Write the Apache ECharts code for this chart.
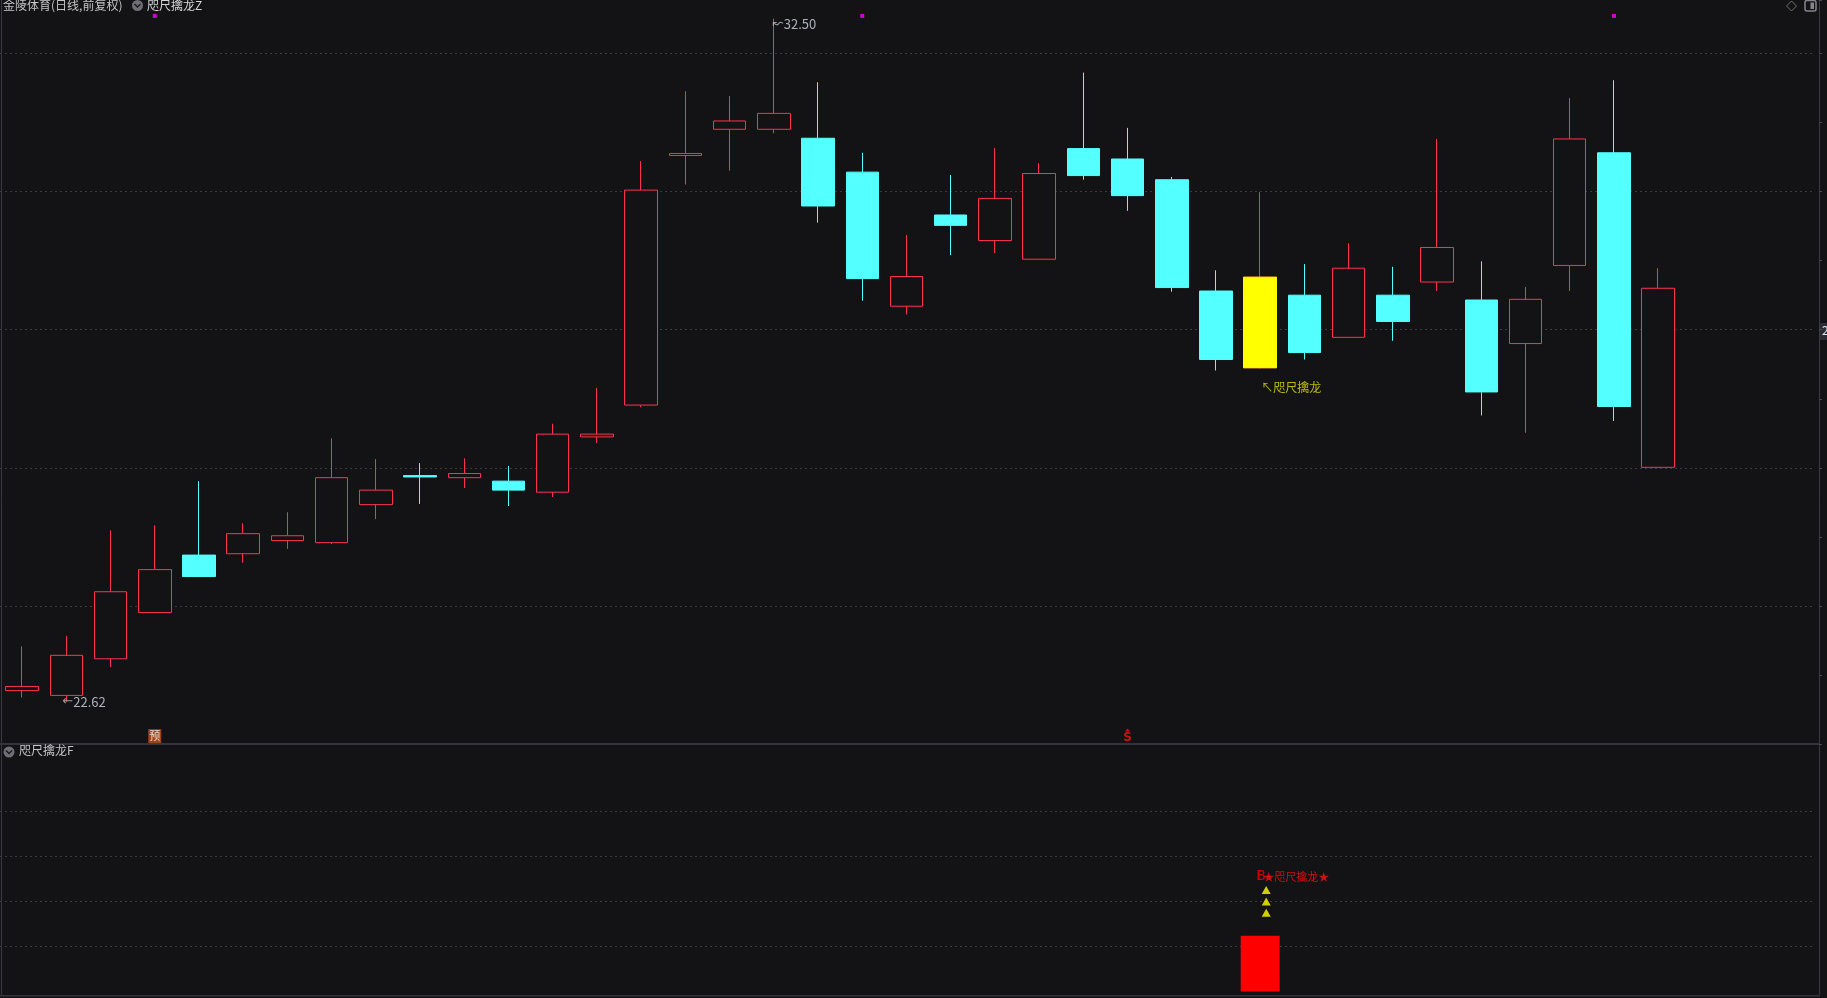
<!DOCTYPE html>
<html lang="zh">
<head>
<meta charset="UTF-8">
<title>金陵体育(日线,前复权)</title>
<script src="https://cdn.jsdelivr.net/npm/echarts@6/dist/echarts.min.js"></script>
<style>
    * { margin: 0; padding: 0 }
    html, body { width: 100%; height: 100%; background: #131215; overflow: hidden; }
    #main { width: 1827px; height: 998px; }
</style>
</head>
<body>
<div id="main"></div>
<script>
    // K线序号(图上没有日期)
    var days = ['1', '2', '3', '4', '5', '6', '7', '8', '9', '10', '11', '12', '13', '14', '15', '16', '17', '18', '19', '20',
        '21', '22', '23', '24', '25', '26', '27', '28', '29', '30', '31', '32', '33', '34', '35', '36', '37', '38', '39', '40', '41'];
    var opens = [22.78, 22.71, 23.24, 23.91, 24.74, 24.76, 24.95, 24.92, 25.47, 25.89, 25.86, 25.81, 25.65, 26.45, 26.91, 30.52, 30.90, 30.90, 30.77, 30.28,
        28.34, 29.66, 29.29, 29.02, 30.62, 30.47, 30.17, 28.56, 27.45, 28.50, 27.89, 28.50, 28.69, 28.43, 27.80, 28.93, 30.56, 26.01];
    var closes = [22.84, 23.29, 24.21, 24.53, 24.43, 25.05, 25.02, 25.86, 25.68, 25.87, 25.92, 25.68, 26.49, 26.49, 30.02, 30.55, 31.02, 31.13, 29.79, 28.74,
        28.77, 29.51, 29.90, 30.26, 30.23, 29.94, 28.61, 27.57, 28.76, 27.67, 28.89, 28.12, 29.19, 27.10, 28.44, 30.76, 26.89, 28.60];
    var lows = [22.68, 22.62, 23.12, 23.91, 24.43, 24.63, 24.83, 24.90, 25.26, 25.48, 25.71, 25.45, 25.58, 26.36, 26.88, 30.10, 30.30, 30.84, 29.55, 28.42,
        28.22, 29.08, 29.11, 29.02, 30.17, 29.72, 28.55, 27.41, 27.44, 27.57, 27.89, 27.84, 28.56, 26.76, 26.51, 28.56, 26.68, 26.01];
    var highs = [23.42, 23.57, 25.10, 25.17, 25.81, 25.20, 25.36, 26.43, 26.13, 26.07, 26.14, 26.03, 26.64, 27.16, 30.44, 31.45, 31.38, 32.50, 31.58, 30.56,
        29.37, 30.24, 30.63, 30.41, 31.72, 30.92, 30.21, 28.86, 29.99, 28.95, 29.25, 28.91, 30.76, 28.99, 28.62, 31.35, 31.61, 28.89];
    var priceGrid = [24, 26, 28, 30, 32];

    // 信号
    var dragonIdx = 28;       // 咫尺擒龙
    var sellIdx = 25;         // S
    var preIdx = 3;           // 预
    var dotIdx = [3, 19, 36]; // 顶部小紫点
    var dragonBar = 1.24;     // 副图红柱
    var arrowLevels = [2.26, 2.0, 1.75];
    var subGrid = [1, 2, 3, 4];

    var UP = '#ff3350', DOWN = '#54ffff', BG = '#131215', GRIDC = '#3a3a45';
    var FONT = '"Noto Sans CJK SC", "Microsoft YaHei", sans-serif';

    var kData = [];
    for (var i = 0; i < opens.length; i++) {
        kData.push([opens[i], closes[i], lows[i], highs[i]]);
    }
    // 黄色K线实体(无影线)
    var yellowData = days.map(function () { return '-'; });
    yellowData[dragonIdx] = [opens[dragonIdx], closes[dragonIdx], opens[dragonIdx], closes[dragonIdx]];

    var barData = days.map(function () { return '-'; });
    barData[dragonIdx] = dragonBar;

    var myChart = echarts.init(document.getElementById('main'));

    var gridLine = {
        silent: true,
        symbol: ['none', 'none'],
        label: {show: false},
        lineStyle: {color: GRIDC, type: [2, 3], width: 1},
        animation: false
    };

    option = {
        backgroundColor: BG,
        animation: false,
        grid: [
            {left: -4.16, top: 0, width: 1817.1, height: 744.5},
            {left: -4.16, top: 771.1, width: 1817.1, height: 220.5}
        ],
        xAxis: [
            {type: 'category', gridIndex: 0, data: days, boundaryGap: true,
                axisLine: {show: false}, axisTick: {show: false}, axisLabel: {show: false}, splitLine: {show: false}},
            {type: 'category', gridIndex: 1, data: days, boundaryGap: true,
                axisLine: {show: false}, axisTick: {show: false}, axisLabel: {show: false}, splitLine: {show: false}}
        ],
        yAxis: [
            {type: 'value', gridIndex: 0, position: 'right', offset: 6, min: 22, max: 32.77, interval: 1,
                axisLine: {show: false},
                axisTick: {show: true, length: 3, lineStyle: {color: '#4a4a55'}},
                axisLabel: {show: false}, splitLine: {show: false}},
            {type: 'value', gridIndex: 1, min: 0, max: 4.9, show: false, splitLine: {show: false}}
        ],
        graphic: [
            // 边框
            {type: 'line', shape: {x1: 1.5, y1: 0, x2: 1.5, y2: 995}, style: {stroke: '#3a3a46', lineWidth: 1}, silent: true},
            {type: 'line', shape: {x1: 1819.5, y1: 0, x2: 1819.5, y2: 995}, style: {stroke: '#3a3a46', lineWidth: 1}, silent: true},
            {type: 'rect', shape: {x: 0, y: 743, width: 1820, height: 2}, style: {fill: '#33333f'}, silent: true},
            {type: 'rect', shape: {x: 0, y: 995, width: 1820, height: 1.5}, style: {fill: '#33333f'}, silent: true},
            // 标题
            {type: 'text', left: 3, top: -1, style: {text: '金陵体育(日线,前复权)', fill: '#c4c4c8', font: '12px ' + FONT}},
            {type: 'circle', shape: {cx: 137.5, cy: 5.5, r: 5.5}, style: {fill: '#6e6e74'}},
            {type: 'polyline', shape: {points: [[134.5, 4], [137.5, 7], [140.5, 4]]}, style: {stroke: '#1a1a1c', lineWidth: 1.4, fill: null}},
            {type: 'text', left: 147, top: -1, style: {text: '咫尺擒龙Z', fill: '#d6d6da', font: '12px ' + FONT}},
            // 副图标题
            {type: 'circle', shape: {cx: 9, cy: 752, r: 5.5}, style: {fill: '#6e6e74'}},
            {type: 'polyline', shape: {points: [[6, 750.5], [9, 753.5], [12, 750.5]]}, style: {stroke: '#1a1a1c', lineWidth: 1.4, fill: null}},
            {type: 'text', left: 19, top: 744, style: {text: '咫尺擒龙F', fill: '#c4c4c8', font: '12px ' + FONT}},
            // 右上角按钮
            {type: 'polygon', shape: {points: [[1791.5, 1], [1796.5, 6], [1791.5, 11], [1786.5, 6]]}, style: {stroke: '#707078', fill: null, lineWidth: 1}},
            {type: 'rect', shape: {x: 1805, y: 0.5, width: 11, height: 10.5, r: 2}, style: {stroke: '#85858c', fill: null, lineWidth: 1.5}},
            {type: 'rect', shape: {x: 1810.5, y: 2.5, width: 3.5, height: 6.5}, style: {fill: '#85858c'}},
            // 右侧价格标签(被窗口截断)
            {type: 'rect', shape: {x: 1820, y: 323, width: 40, height: 17}, style: {fill: '#2c2c36'}},
            {type: 'text', left: 1822, top: 324, style: {text: '28.00', fill: '#dfe3ea', font: '12px ' + FONT}}
        ],
        series: [
            {
                name: '网格', type: 'scatter', xAxisIndex: 0, yAxisIndex: 0, data: [], z: 0,
                markLine: Object.assign({data: priceGrid.map(function (v) { return {yAxis: v}; })}, gridLine)
            },
            {
                name: '副图网格', type: 'scatter', xAxisIndex: 1, yAxisIndex: 1, data: [], z: 0,
                markLine: Object.assign({data: subGrid.map(function (v) { return {yAxis: v}; })}, gridLine)
            },
            {
                name: 'K', type: 'candlestick', xAxisIndex: 0, yAxisIndex: 0, z: 5,
                data: kData, barWidth: 33, barMaxWidth: 40,
                itemStyle: {color: BG, color0: DOWN, borderColor: UP, borderColor0: DOWN, borderWidth: 1}
            },
            {
                name: '咫尺擒龙', type: 'candlestick', xAxisIndex: 0, yAxisIndex: 0, z: 6,
                data: yellowData, barWidth: 33, barMaxWidth: 40,
                itemStyle: {color: '#ffff00', color0: '#ffff00', borderColor: '#ffff00', borderColor0: '#ffff00', borderWidth: 1}
            },
            {
                name: 'dots', type: 'scatter', xAxisIndex: 0, yAxisIndex: 0, z: 6,
                symbol: 'rect', symbolSize: 4, itemStyle: {color: '#ff00ff'},
                data: dotIdx.map(function (d) { return [d, 32.54]; })
            },
            {
                name: 'labels', type: 'scatter', xAxisIndex: 0, yAxisIndex: 0, symbolSize: 0, z: 7,
                data: [
                    {value: [17, highs[17]], label: {formatter: '{a|↜}{b|32.50}', offset: [-1, 5]}},
                    {value: [1, lows[1]], label: {formatter: '{a|←}{b|22.62}', offset: [-4, 0]}},
                    {value: [dragonIdx, 27.16], label: {formatter: '↖咫尺擒龙', color: '#e4e400', offset: [1, 0]}}
                ],
                label: {
                    show: true, position: 'right', distance: 0, fontSize: 12, fontFamily: FONT,
                    rich: {
                        a: {color: '#bcbcc4', fontSize: 13, fontFamily: 'DejaVu Sans'},
                        b: {color: '#d2d8e4', fontSize: 13, fontFamily: FONT}
                    }
                }
            },
            {
                name: '预', type: 'scatter', xAxisIndex: 0, yAxisIndex: 0, z: 7,
                symbol: 'rect', symbolSize: [13, 14], itemStyle: {color: '#c2501c'},
                data: [[preIdx, 22.12]],
                label: {show: true, position: 'inside', formatter: '预', color: '#ffffff', fontSize: 11, fontFamily: FONT}
            },
            {
                name: 'S', type: 'scatter', xAxisIndex: 0, yAxisIndex: 0, symbolSize: 0, z: 7,
                data: [[sellIdx, 22.10]],
                label: {show: true, position: 'inside', formatter: 'S', color: '#ff1010', fontSize: 12, fontWeight: 'bold', fontFamily: 'DejaVu Sans'}
            },
            {
                name: 'S箭头', type: 'scatter', xAxisIndex: 0, yAxisIndex: 0, z: 7,
                symbol: 'triangle', symbolSize: [5, 3], itemStyle: {color: '#ff1010'},
                data: [[sellIdx, 22.21]]
            },
            {
                name: '咫尺擒龙F', type: 'bar', xAxisIndex: 1, yAxisIndex: 1, z: 5,
                data: barData, barWidth: 39, itemStyle: {color: '#ff0000'}
            },
            {
                name: '箭头', type: 'scatter', xAxisIndex: 1, yAxisIndex: 1, z: 6,
                symbol: 'triangle', symbolSize: [9, 8], symbolOffset: [6, 0], itemStyle: {color: '#ffff00'},
                data: arrowLevels.map(function (v) { return [dragonIdx, v]; })
            },
            {
                name: 'B', type: 'scatter', xAxisIndex: 1, yAxisIndex: 1, symbolSize: 0, z: 7,
                data: [[dragonIdx, 2.55]],
                label: {show: true, position: 'right', distance: 0, offset: [-4, 0],
                    formatter: 'B', color: '#ff0000', fontSize: 14, fontFamily: 'DejaVu Sans'}
            },
            {
                name: 'B文字', type: 'scatter', xAxisIndex: 1, yAxisIndex: 1, symbolSize: 0, z: 7,
                data: [[dragonIdx, 2.55]],
                label: {show: true, position: 'right', distance: 0, offset: [3, 0],
                    formatter: '★咫尺擒龙★', color: '#ff1010', fontSize: 11, fontFamily: FONT}
            }
        ]
    };

    myChart.setOption(option);
</script>
</body>
</html>
